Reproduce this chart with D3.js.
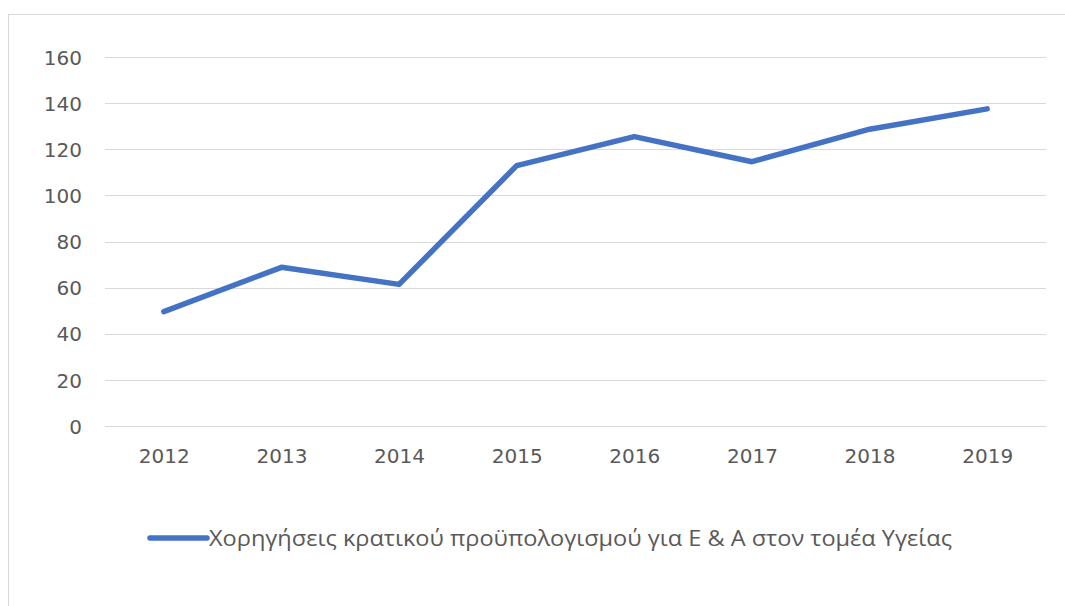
<!DOCTYPE html>
<html>
<head>
<meta charset="utf-8">
<script src="https://cdn.jsdelivr.net/npm/d3@7"></script>
<style>
  html, body { margin: 0; padding: 0; background: #fff; }
  svg { display: block; }
  text { font-family: "DejaVu Sans", sans-serif; fill: #595959; }
</style>
</head>
<body>
<svg id="chart" width="1065" height="606"></svg>
<script>
// Years on the category axis
const years = ["2012", "2013", "2014", "2015", "2016", "2017", "2018", "2019"];
// State budget appropriations for R&D in the health sector
const funding = [49.6, 68.8, 61.4, 112.9, 125.5, 114.6, 128.7, 137.5];
// Value axis ticks
const yTicks = [0, 20, 40, 60, 80, 100, 120, 140, 160];
const seriesName = "Χορηγήσεις κρατικού προϋπολογισμού για Ε & Α στον τομέα Υγείας";

const svg = d3.select("#chart");

// chart frame
svg.append("rect")
  .attr("x", 8.5).attr("y", 14.5)
  .attr("width", 1080).attr("height", 620)
  .attr("fill", "#fff")
  .attr("stroke", "#d9d9d9").attr("stroke-width", 1);

const plot = { left: 105, right: 1046, top: 57, bottom: 426 };

const x = d3.scalePoint()
  .domain(years)
  .range([plot.left, plot.right])
  .padding(0.5);

const y = d3.scaleLinear()
  .domain([0, 160])
  .range([plot.bottom, plot.top]);

// horizontal gridlines
svg.append("g")
  .selectAll("line")
  .data(yTicks)
  .join("line")
  .attr("x1", plot.left).attr("x2", plot.right)
  .attr("y1", d => Math.round(y(d)) + 0.5)
  .attr("y2", d => Math.round(y(d)) + 0.5)
  .attr("stroke", "#d9d9d9").attr("stroke-width", 1);

// value axis labels
const yAxis = d3.axisLeft(y).tickValues(yTicks).tickSize(0).tickPadding(0);
const gy = svg.append("g")
  .attr("transform", `translate(82,0)`)
  .call(yAxis);
gy.select(".domain").remove();
gy.selectAll("text")
  .style("font-family", "DejaVu Sans, sans-serif")
  .style("font-size", "20px")
  .attr("fill", "#595959")
  .attr("dy", "0.36em");

// category axis labels
const xAxis = d3.axisBottom(x).tickSize(0).tickPadding(0);
const gx = svg.append("g")
  .attr("transform", `translate(0,449)`)
  .call(xAxis);
gx.select(".domain").remove();
gx.selectAll("text")
  .style("font-family", "DejaVu Sans, sans-serif")
  .style("font-size", "20px")
  .attr("fill", "#595959");

// data line
const line = d3.line()
  .x((d, i) => x(years[i]))
  .y(d => y(d));

svg.append("path")
  .datum(funding)
  .attr("d", line)
  .attr("fill", "none")
  .attr("stroke", "#4472c4")
  .attr("stroke-width", 5.5)
  .attr("stroke-linejoin", "round")
  .attr("stroke-linecap", "round");

// legend
const legend = svg.append("g").attr("transform", "translate(0,538)");
legend.append("line")
  .attr("x1", 150).attr("x2", 207)
  .attr("y1", 0).attr("y2", 0)
  .attr("stroke", "#4472c4")
  .attr("stroke-width", 5.5)
  .attr("stroke-linecap", "round");
legend.append("text")
  .attr("x", 209).attr("y", 0)
  .attr("dy", "0.36em")
  .attr("textLength", 743)
  .attr("lengthAdjust", "spacingAndGlyphs")
  .style("font-family", "'Open Sans', sans-serif")
  .style("font-size", "22px")
  .text(seriesName);
</script>
</body>
</html>
